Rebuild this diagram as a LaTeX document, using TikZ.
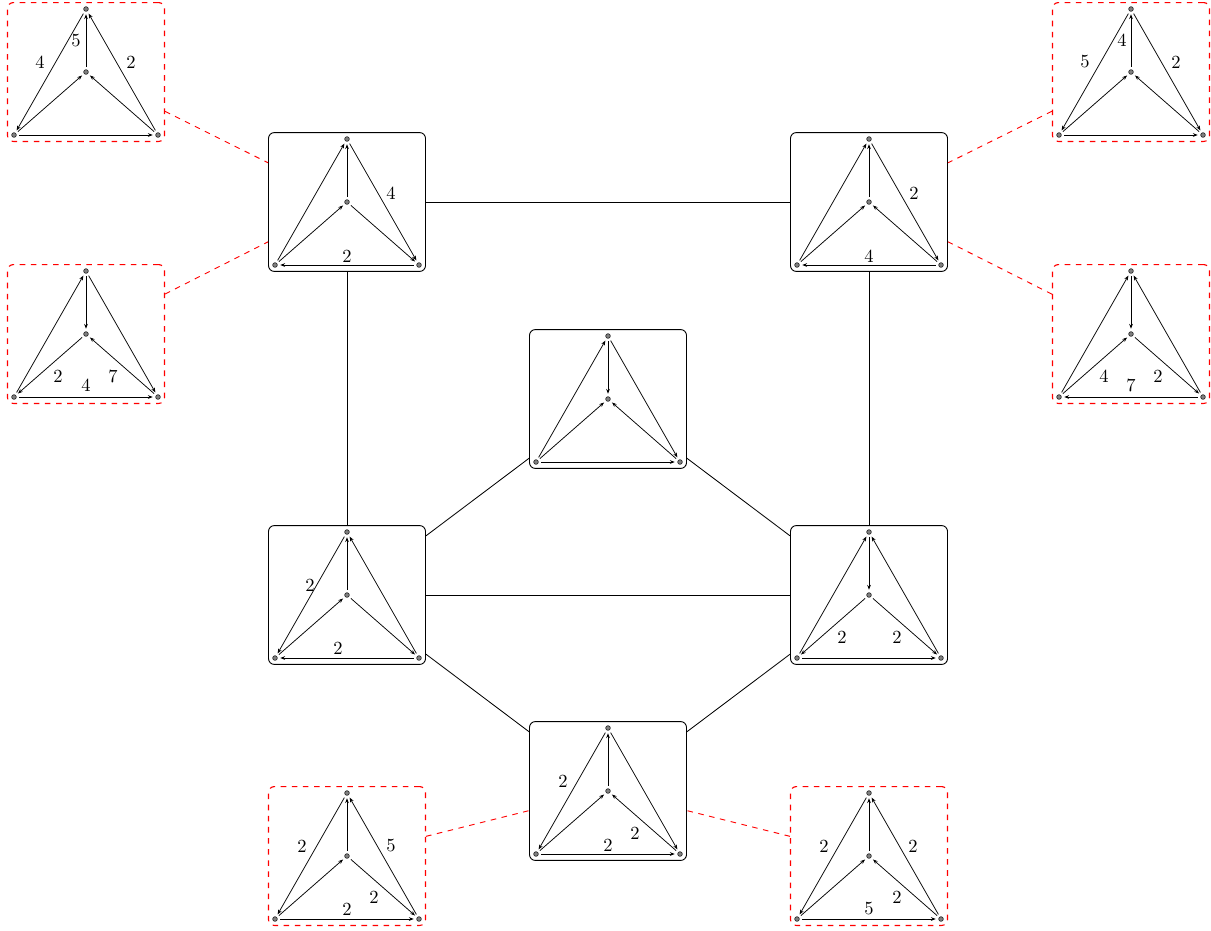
\documentclass[tikz,border=0pt]{standalone}
\usetikzlibrary{arrows.meta}
\tikzset{
  gbase/.style={rectangle, rounded corners=3.2pt, minimum width=84.8pt, minimum height=75pt, inner sep=0pt},
  mainbox/.style={gbase, draw=black, line width=0.5pt},
  redbox/.style={gbase, draw=red, dashed, line width=0.6pt},
  vtx/.style={circle, draw=black!85, fill=black!50, line width=0.35pt, minimum size=2.5pt, inner sep=0pt, outer sep=1.6pt},
  arr/.style={-{Stealth[length=2.6pt,width=2pt]}, line width=0.4pt},
  lab/.style={midway, inner sep=0pt, font=\normalsize},
  conn/.style={line width=0.45pt},
  redconn/.style={red, dashed, line width=0.5pt}
}
\newcommand{\gbox}[4]{%
  \node[#4] (#1) at (#2,#3) {};
  \begin{scope}[shift={(#2,#3)}]
    \node[vtx] (#1t) at (0,-63) {};
    \node[vtx] (#1c) at (0,0) {};
    \node[vtx] (#1l) at (-72,63) {};
    \node[vtx] (#1r) at (72,63) {};
  \end{scope}}
\begin{document}
\begin{tikzpicture}[x=0.54pt,y=-0.54pt]
\useasboundingbox (0,0) rectangle (1211,930);
% boxes
\gbox{ba}{86}{72}{redbox}
\gbox{bb}{86}{334}{redbox}
\gbox{bc}{1131}{72}{redbox}
\gbox{bd}{1131}{334}{redbox}
\gbox{be}{347}{202}{mainbox}
\gbox{bf}{869}{202}{mainbox}
\gbox{bg}{608}{399}{mainbox}
\gbox{bh}{347}{595}{mainbox}
\gbox{bi}{869}{595}{mainbox}
\gbox{bj}{608}{791}{mainbox}
\gbox{bk}{347}{856}{redbox}
\gbox{bl}{869}{856}{redbox}
% connectors
\draw[conn] (be) -- (bf);
\draw[conn] (be) -- (bh);
\draw[conn] (bf) -- (bi);
\draw[conn] (bh) -- (bi);
\draw[conn] (bg) -- (bh);
\draw[conn] (bg) -- (bi);
\draw[conn] (bj) -- (bh);
\draw[conn] (bj) -- (bi);
\draw[redconn] (ba) -- (be);
\draw[redconn] (bb) -- (be);
\draw[redconn] (bc) -- (bf);
\draw[redconn] (bd) -- (bf);
\draw[redconn] (bk) -- (bj);
\draw[redconn] (bl) -- (bj);
% box a
\draw[arr] (bac) -- node[lab, shift={(-10,0)}] {5} (bat);
\draw[arr] (bat) -- node[lab, shift={(-10,-10)}] {4} (bal);
\draw[arr] (bal) -- (bac);
\draw[arr] (bar) -- (bac);
\draw[arr] (bar) -- node[lab, shift={(9,-10)}] {2} (bat);
\draw[arr] (bal) -- (bar);
% box b
\draw[arr] (bbl) -- (bbt);
\draw[arr] (bbt) -- (bbc);
\draw[arr] (bbc) -- node[lab, shift={(8,10.5)}] {2} (bbl);
\draw[arr] (bbr) -- node[lab, shift={(-9,10.5)}] {7} (bbc);
\draw[arr] (bbt) -- (bbr);
\draw[arr] (bbl) -- node[lab, shift={(0,-12)}] {4} (bbr);
% box c
\draw[arr] (bcc) -- node[lab, shift={(-9,0)}] {4} (bct);
\draw[arr] (bct) -- node[lab, shift={(-10,-10)}] {5} (bcl);
\draw[arr] (bcl) -- (bcc);
\draw[arr] (bcr) -- (bcc);
\draw[arr] (bct) -- node[lab, shift={(9,-10)}] {2} (bcr);
\draw[arr] (bcl) -- (bcr);
% box d
\draw[arr] (bdl) -- (bdt);
\draw[arr] (bdt) -- (bdc);
\draw[arr] (bdl) -- node[lab, shift={(9,10.5)}] {4} (bdc);
\draw[arr] (bdc) -- node[lab, shift={(-9,10.5)}] {2} (bdr);
\draw[arr] (bdr) -- (bdt);
\draw[arr] (bdr) -- node[lab, shift={(0,-12)}] {7} (bdl);
% box e
\draw[arr] (bel) -- (bet);
\draw[arr] (bec) -- (bet);
\draw[arr] (bel) -- (bec);
\draw[arr] (bec) -- (ber);
\draw[arr] (bet) -- node[lab, shift={(8,-9)}] {4} (ber);
\draw[arr] (ber) -- node[lab, shift={(0,-9)}] {2} (bel);
% box f
\draw[arr] (bfl) -- (bft);
\draw[arr] (bfc) -- (bft);
\draw[arr] (bfl) -- (bfc);
\draw[arr] (bfr) -- (bfc);
\draw[arr] (bft) -- node[lab, shift={(9,-9)}] {2} (bfr);
\draw[arr] (bfr) -- node[lab, shift={(0,-9)}] {4} (bfl);
% box g
\draw[arr] (bgl) -- (bgt);
\draw[arr] (bgt) -- (bgc);
\draw[arr] (bgl) -- (bgc);
\draw[arr] (bgr) -- (bgc);
\draw[arr] (bgt) -- (bgr);
\draw[arr] (bgl) -- (bgr);
% box h
\draw[arr] (bht) -- node[lab, shift={(-1,-10)}] {2} (bhl);
\draw[arr] (bhc) -- (bht);
\draw[arr] (bhl) -- (bhc);
\draw[arr] (bhc) -- (bhr);
\draw[arr] (bhr) -- (bht);
\draw[arr] (bhr) -- node[lab, shift={(-9,-10)}] {2} (bhl);
% box i
\draw[arr] (bil) -- (bit);
\draw[arr] (bit) -- (bic);
\draw[arr] (bic) -- node[lab, shift={(9,10.5)}] {2} (bil);
\draw[arr] (bic) -- node[lab, shift={(-8,10.5)}] {2} (bir);
\draw[arr] (bir) -- (bit);
\draw[arr] (bil) -- (bir);
% box j
\draw[arr] (bjt) -- node[lab, shift={(-9,-10)}] {2} (bjl);
\draw[arr] (bjc) -- (bjt);
\draw[arr] (bjl) -- (bjc);
\draw[arr] (bjr) -- node[lab, shift={(-9,10.5)}] {2} (bjc);
\draw[arr] (bjt) -- (bjr);
\draw[arr] (bjl) -- node[lab, shift={(0,-9)}] {2} (bjr);
% box k
\draw[arr] (bkt) -- node[lab, shift={(-9,-10)}] {2} (bkl);
\draw[arr] (bkc) -- (bkt);
\draw[arr] (bkl) -- (bkc);
\draw[arr] (bkc) -- node[lab, shift={(-9,9.5)}] {2} (bkr);
\draw[arr] (bkr) -- node[lab, shift={(8,-10)}] {5} (bkt);
\draw[arr] (bkl) -- node[lab, shift={(0,-10)}] {2} (bkr);
% box l
\draw[arr] (blt) -- node[lab, shift={(-9,-10)}] {2} (bll);
\draw[arr] (blc) -- (blt);
\draw[arr] (bll) -- (blc);
\draw[arr] (blr) -- node[lab, shift={(-8,9.5)}] {2} (blc);
\draw[arr] (blr) -- node[lab, shift={(8,-10)}] {2} (blt);
\draw[arr] (bll) -- node[lab, shift={(0,-10)}] {5} (blr);
\end{tikzpicture}
\end{document}
